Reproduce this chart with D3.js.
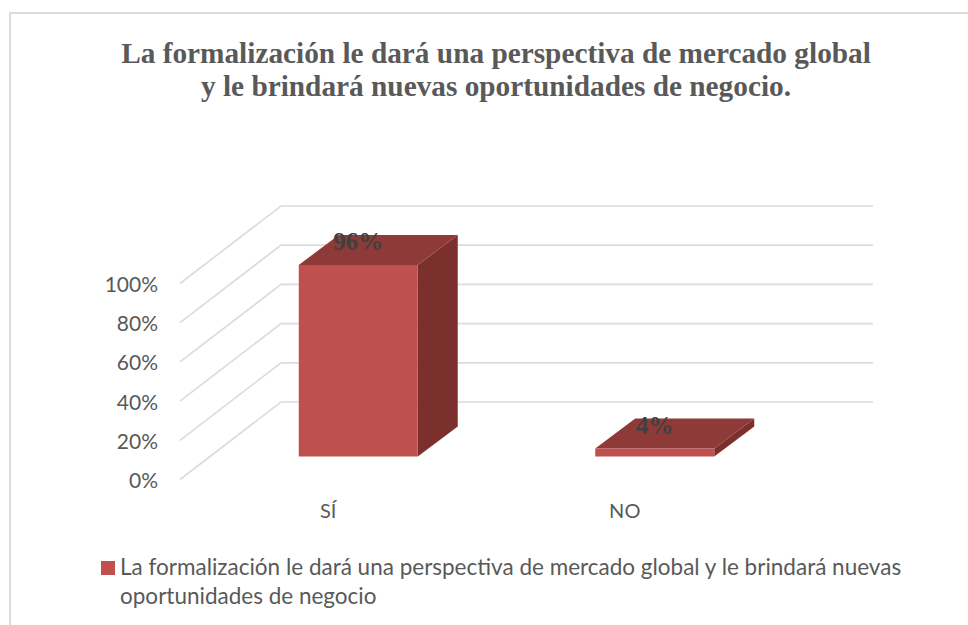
<!DOCTYPE html>
<html><head><meta charset="utf-8">
<script src="https://cdn.jsdelivr.net/npm/d3@7"></script>
<style>html,body{margin:0;padding:0;background:#fff}svg{display:block}</style>
</head><body><div id="c"></div>
<script>
const categories = ["SÍ", "NO"];
const values = [96, 4];
const valueLabels = ["96%", "4%"];
const ticks = [0, 20, 40, 60, 80, 100];
const titleLines = ["La formalización le dará una perspectiva de mercado global", "y le brindará nuevas oportunidades de negocio."];
const legendLines = ["La formalización le dará una perspectiva de mercado global y le brindará nuevas", "oportunidades de negocio"];

const W = 968, H = 625;
const svg = d3.select("#c").append("svg").attr("width", W).attr("height", H);
const sans = "Lato,'Open Sans',sans-serif", serif = "'Liberation Serif',serif";
const gray = "#595959", grid = "#dcdcdc";

// frame
svg.append("path").attr("d", "M10,625V13H968").attr("fill", "none").attr("stroke", grid).attr("stroke-width", 2);

// title
svg.selectAll(".t").data(titleLines).join("text").attr("class", "t")
  .attr("x", 496).attr("y", (d, i) => 63 + i * 33).attr("text-anchor", "middle")
  .attr("font-family", serif).attr("font-weight", "bold").attr("font-size", 29.3).attr("fill", gray).text(d => d);

// scales
const y = d3.scaleLinear().domain([0, 100]).range([479.5, 283.5]);
const yBar = d3.scaleLinear().domain([0, 100]).range([456.5, 257]);
const x = d3.scaleBand().domain(categories).range([180, 773]);
const depth = { x: 101, y: -77.5 };

// gridlines
ticks.forEach(t => {
  svg.append("path").attr("fill", "none").attr("stroke", grid).attr("stroke-width", 1.7)
    .attr("d", d3.line()([[180, y(t)], [180 + depth.x, y(t) + depth.y], [873, y(t) + depth.y]]));
});

// tick labels
svg.selectAll(".yl").data(ticks).join("text").attr("class", "yl")
  .attr("x", 158).attr("y", d => y(d) + 8.5).attr("text-anchor", "end")
  .attr("font-family", sans).attr("font-size", 21).attr("fill", gray).text(d => d + "%");

// category labels
svg.selectAll(".xl").data(categories).join("text").attr("class", "xl")
  .attr("x", d => x(d) + x.bandwidth() / 2).attr("y", 518).attr("text-anchor", "middle")
  .attr("font-family", sans).attr("font-size", 20).attr("fill", gray).text(d => d);

// 3D bars
const barW = 119, off = 30, dx = 40, dy = -30;
categories.forEach((c, i) => {
  const x0 = x(c) + x.bandwidth() / 2 + off - barW / 2, x1 = x0 + barW;
  const yb = yBar(0), yt = yBar(values[i]);
  const g = svg.append("g");
  const poly = pts => d3.line()(pts) + "Z";
  g.append("path").attr("fill", "#7b302e").attr("d", poly([[x1, yt], [x1 + dx, yt + dy], [x1 + dx, yb + dy], [x1, yb]]));
  g.append("path").attr("fill", "#8e3a38").attr("d", poly([[x0, yt], [x1, yt], [x1 + dx, yt + dy], [x0 + dx, yt + dy]]));
  g.append("path").attr("fill", "#c0504d").attr("d", poly([[x0, yt], [x1, yt], [x1, yb], [x0, yb]]));
  g.append("text").attr("x", x0 + 59.5).attr("y", yt - 15).attr("text-anchor", "middle")
    .attr("font-family", serif).attr("font-weight", "bold").attr("font-size", 25).attr("fill", "#404040").text(valueLabels[i]);
});

// legend
svg.append("rect").attr("x", 101).attr("y", 561).attr("width", 14).attr("height", 14).attr("fill", "#c0504d");
svg.selectAll(".lg").data(legendLines).join("text").attr("class", "lg")
  .attr("x", 120).attr("y", (d, i) => 575 + i * 29)
  .attr("font-family", sans).attr("font-size", 22.5).attr("fill", gray).text(d => d);
</script></body></html>
